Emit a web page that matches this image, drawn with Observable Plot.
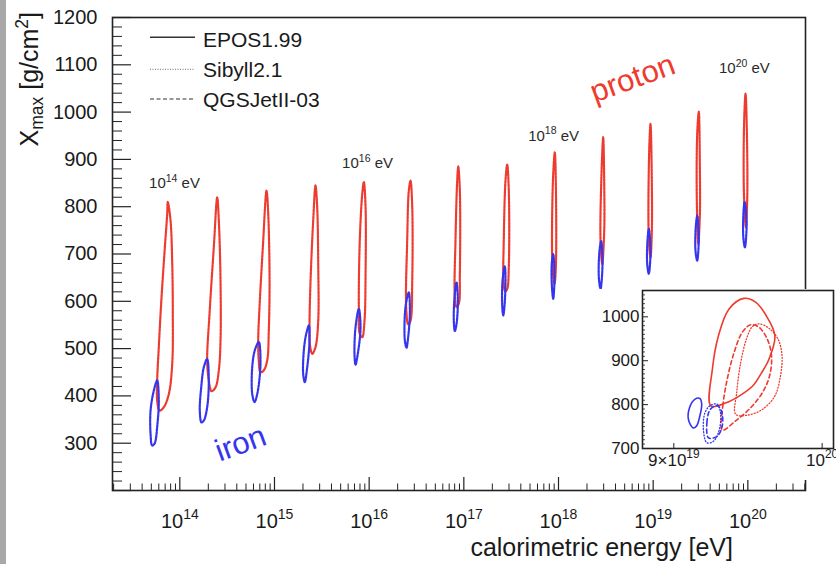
<!DOCTYPE html>
<html><head><meta charset="utf-8">
<script src="https://cdn.jsdelivr.net/npm/d3@7"></script>
<script src="https://cdn.jsdelivr.net/npm/@observablehq/plot@0.6"></script>
<style>
html,body{margin:0;padding:0;background:#fff;}
#wrap{position:relative;width:836px;height:564px;overflow:hidden;background:#fff;font-family:"Liberation Sans",Arial,Helvetica,sans-serif;}
#bar{position:absolute;left:0;top:0;width:6px;height:564px;background:#a8a8a8;}
#main{position:absolute;left:0;top:0;}
#inset{position:absolute;left:594px;top:289px;background:#fff;}
</style></head><body>
<div id="wrap"><div id="main"></div><div id="inset"></div><div id="bar"></div></div>
<script>
// ---------- data (log10 of calorimetric energy [eV], Xmax [g/cm2]) ----------
const xTickValues = [1e14, 1e15, 1e16, 1e17, 1e18, 1e19, 1e20];
const xTickLabels = ["10^{14}", "10^{15}", "10^{16}", "10^{17}", "10^{18}", "10^{19}", "10^{20}"];
const yTickValues = [300, 400, 500, 600, 700, 800, 900, 1000, 1100, 1200];
const models = ["EPOS1.99", "Sibyll2.1", "QGSJetII-03"];

const protonLoops = [
  [[13.873,810],[13.902,771],[13.920,679],[13.926,574],[13.920,468],[13.884,404],[13.831,376],[13.786,369],[13.761,390],[13.761,433],[13.778,503],[13.807,609],[13.842,714],[13.867,785]],
  [[14.395,820],[14.412,771],[14.430,644],[14.430,517],[14.412,454],[14.377,418],[14.335,410],[14.306,433],[14.289,475],[14.314,574],[14.359,714]],
  [[14.916,834],[14.934,785],[14.948,644],[14.940,538],[14.923,475],[14.887,454],[14.852,450],[14.834,475],[14.828,517],[14.842,588],[14.877,714]],
  [[15.433,845],[15.451,799],[15.462,679],[15.462,559],[15.433,503],[15.399,489],[15.373,510],[15.370,552],[15.381,644],[15.409,771]],
  [[15.944,852],[15.962,799],[15.962,658],[15.951,559],[15.927,524],[15.901,531],[15.891,588],[15.901,729],[15.927,827]],
  [[16.437,855],[16.455,799],[16.455,644],[16.437,559],[16.413,551],[16.391,588],[16.402,729],[16.419,834]],
  [[16.941,885],[16.958,834],[16.958,658],[16.947,595],[16.923,588],[16.905,609],[16.912,729],[16.930,855]],
  [[17.458,889],[17.475,834],[17.475,672],[17.458,626],[17.437,621],[17.419,644],[17.422,729],[17.440,855]],
  [[17.961,915],[17.972,848],[17.972,672],[17.958,637],[17.937,672],[17.940,848]],
  [[18.472,947],[18.483,848],[18.483,750],[18.462,679],[18.444,729],[18.451,848]],
  [[18.972,975],[18.986,848],[18.986,750],[18.972,693],[18.954,729],[18.958,919]],
  [[19.482,1001],[19.493,884],[19.493,781],[19.476,722],[19.461,813],[19.465,954]],
  [[19.976,1039],[19.993,919],[19.993,813],[19.979,757],[19.958,834],[19.962,989]]
];

const ironLoops = [
  [[13.761,433],[13.778,390],[13.764,341],[13.733,299],[13.708,295],[13.691,320],[13.691,369],[13.725,411]],
  [[14.289,478],[14.306,433],[14.289,376],[14.254,348],[14.229,344],[14.211,369],[14.226,418],[14.254,461]],
  [[14.834,514],[14.852,468],[14.818,404],[14.789,387],[14.765,404],[14.765,461],[14.792,496]],
  [[15.363,549],[15.370,517],[15.346,461],[15.320,429],[15.303,447],[15.310,496],[15.335,531]],
  [[15.891,584],[15.909,545],[15.880,489],[15.856,466],[15.845,489],[15.856,545]],
  [[16.419,619],[16.430,574],[16.408,517],[16.395,502],[16.377,517],[16.384,588]],
  [[16.923,640],[16.937,602],[16.923,552],[16.905,537],[16.894,559],[16.902,609]],
  [[17.433,674],[17.440,637],[17.427,584],[17.416,570],[17.406,588],[17.409,644]],
  [[17.944,700],[17.958,651],[17.944,605],[17.929,637],[17.929,679]],
  [[18.451,727],[18.465,679],[18.444,626],[18.426,651],[18.433,707]],
  [[18.954,753],[18.972,707],[18.954,658],[18.937,679],[18.940,729]],
  [[19.465,781],[19.482,736],[19.465,686],[19.447,707],[19.450,757]],
  [[19.966,810],[19.987,764],[19.969,714],[19.952,736],[19.955,792]]
];

const energyLabels = ["10^{14} eV", "10^{16} eV", "10^{18} eV", "10^{20} eV"];
const energyLabelLogE = [13.944, 15.983, 17.948, 19.964];
const energyLabelXmax = [849, 891, 950, 1092];

const speciesLabels = ["proton", "iron"];
const speciesLabelLogE = [18.783, 14.642];
const speciesLabelXmax = [1071, 299];

// inset: energy in units of 1e19 eV, Xmax
const insetXTickValues = [9e19, 1e20];
const insetXTickLabels = ["9×10^{19}", "10^{20}"];
const insetYTickValues = [700, 800, 900, 1000];
const insetProtonEPOS = [[9.24,797],[9.25,881],[9.29,957],[9.36,1018],[9.46,1042],[9.54,1033],[9.61,1003],[9.67,957],[9.63,904],[9.58,873],[9.52,843],[9.43,820],[9.34,804]];
const insetProtonSibyll = [[9.404,778],[9.411,827],[9.438,896],[9.476,949],[9.517,978],[9.562,984],[9.629,974],[9.692,949],[9.719,911],[9.708,865],[9.670,820],[9.584,789],[9.483,776]];
const insetProtonQGSJet = [[9.315,742],[9.319,797],[9.348,858],[9.394,919],[9.449,965],[9.505,982],[9.562,976],[9.618,949],[9.647,911],[9.633,865],[9.584,827],[9.505,793],[9.404,763]];
const insetIronEPOS = [[9.124,747],[9.094,766],[9.101,793],[9.135,812],[9.168,814],[9.180,801],[9.168,774],[9.146,751]];
const insetIronSibyll = [[9.214,713],[9.191,744],[9.202,782],[9.236,798],[9.281,801],[9.303,782],[9.296,744],[9.259,717]];
const insetIronQGSJet = [[9.225,724],[9.214,759],[9.236,789],[9.281,798],[9.310,785],[9.315,751],[9.281,728]];

// ---------- helpers ----------
const RED = "#ee3b30", BLUE = "#3535ee", INK = "#1a1a1a";
const FONT = "'Liberation Sans', Arial, Helvetica, sans-serif";
function rows(loops) { return loops.flatMap((pts, i) => pts.map(p => ({id: i, e: p[0], xm: p[1]}))); }
function labelFor(values, labels) {
  return d => { const i = values.findIndex(v => Math.abs(v - d) / v < 1e-6); return i < 0 ? "" : labels[i]; };
}
function rich(svg) {
  d3.select(svg).selectAll("text").each(function() {
    const el = this, s = el.textContent;
    if (!/[\^_]\{/.test(s)) return;
    while (el.firstChild) el.removeChild(el.firstChild);
    const re = /(\^|_)\{([^}]*)\}|([^\^_]+)/g; let m, pending = 0;
    while ((m = re.exec(s))) {
      const t = document.createElementNS("http://www.w3.org/2000/svg", "tspan");
      if (m[3] !== undefined) {
        t.textContent = m[3];
        if (pending) t.setAttribute("dy", pending + "em");
        pending = 0;
      } else {
        t.textContent = m[2];
        t.setAttribute("font-size", "70%");
        if (m[1] === "^") { t.setAttribute("dy", "-0.6em"); pending = 0.42; }
        else { t.setAttribute("dy", "0.3em"); pending = -0.21; }
      }
      el.appendChild(t);
    }
  });
}

// ---------- main plot ----------
const xDomain = [10 ** 13.289, 10 ** 20.609];
const xMinor = [];
for (let n = 13; n <= 20; n++) for (let k = 2; k <= 9; k++) { const v = k * 10 ** n; if (v >= xDomain[0] && v <= xDomain[1]) xMinor.push(v); }
const yMinor = [];
for (let v = 200; v <= 1200; v += 20) if (v % 100) yMinor.push(v);
const yMajorTicks = [200, ...yTickValues];

const plotW = 836 - 112 - 31, plotH = 564 - 17 - 74;
const annot = energyLabels.map((t, i) => ({t, e: energyLabelLogE[i], xm: energyLabelXmax[i]}));
const spec = speciesLabels.map((t, i) => ({t, e: speciesLabelLogE[i], xm: speciesLabelXmax[i]}));

const main = Plot.plot({
  width: 836, height: 564,
  marginLeft: 112, marginRight: 31, marginTop: 17, marginBottom: 74,
  style: {background: "transparent", fontFamily: FONT, fontSize: "20px", color: INK, overflow: "visible"},
  x: {type: "log", domain: xDomain},
  y: {domain: [200, 1200]},
  marks: [
    Plot.ruleX(xMinor, {stroke: "#222", strokeWidth: 1, insetTop: plotH - 6.5}),
    Plot.ruleX(xTickValues, {stroke: "#222", strokeWidth: 1.2, insetTop: plotH - 13}),
    Plot.ruleY(yMinor, {stroke: "#222", strokeWidth: 1, insetRight: plotW - 10}),
    Plot.ruleY(yMajorTicks, {stroke: "#222", strokeWidth: 1.2, insetRight: plotW - 19}),
    Plot.axisX(xTickValues, {tickSize: 0, tickPadding: 23, fontSize: 20, label: null,
      tickFormat: labelFor(xTickValues, xTickLabels)}),
    Plot.axisY(yTickValues, {tickSize: 0, tickPadding: 15, fontSize: 20, label: null, tickFormat: d => String(d)}),
    Plot.line(rows(protonLoops), {x: d => 10 ** d.e, y: "xm", z: "id", curve: "catmull-rom-closed",
      stroke: RED, strokeWidth: 2.2, strokeDasharray: "2.5,1"}),
    Plot.line(rows(ironLoops), {x: d => 10 ** d.e, y: "xm", z: "id", curve: "catmull-rom-closed",
      stroke: BLUE, strokeWidth: 2.2, strokeDasharray: "2.5,1"}),
    Plot.text(annot, {x: d => 10 ** d.e, y: "xm", text: "t", fontSize: 15, fill: "#2a2a2a"}),
    Plot.text(spec.slice(0, 1), {x: d => 10 ** d.e, y: "xm", text: "t", fontSize: 31, fill: RED, rotate: -20}),
    Plot.text(spec.slice(1), {x: d => 10 ** d.e, y: "xm", text: "t", fontSize: 31, fill: BLUE, rotate: -20}),
    Plot.frame({stroke: "#222", strokeWidth: 1.6})
  ]
});

const ms = d3.select(main);
// axis titles
ms.append("text").attr("transform", "translate(38,12) rotate(-90)").attr("text-anchor", "end")
  .attr("font-size", 25).attr("fill", INK).attr("font-family", FONT).text("X_{max} [g/cm^{2}]");
ms.append("text").attr("x", 733).attr("y", 556).attr("text-anchor", "end")
  .attr("font-size", 25).attr("fill", INK).attr("font-family", FONT).text("calorimetric energy [eV]");
// legend
const legY = [37.3, 69.3, 99], legBase = [46.5, 77, 107];
const legStyle = [{c: "#333", w: 1.5, d: null}, {c: "#8a8a8a", w: 1.3, d: "1,1.5"}, {c: "#777", w: 1.5, d: "4,2.5"}];
models.forEach((m, i) => {
  ms.append("line").attr("x1", 150).attr("x2", 195).attr("y1", legY[i]).attr("y2", legY[i])
    .attr("stroke", legStyle[i].c).attr("stroke-width", legStyle[i].w).attr("stroke-dasharray", legStyle[i].d);
  ms.append("text").attr("x", 203).attr("y", legBase[i]).attr("text-anchor", "start").attr("font-size", 21).attr("fill", INK)
    .attr("font-family", FONT).text(m);
});
rich(main);
document.getElementById("main").appendChild(main);

// ---------- inset ----------
const iH = 191, iW = 242, iML = 48, iMR = 3, iMT = 1, iMB = 32;
const iPlotW = iW - iML - iMR, iPlotH = iH - iMT - iMB;
const iYMinor = [];
for (let v = 700; v <= 1060; v += 10) if (v % 100) iYMinor.push(v);
const ix = d => d[0] * 1e19, iy = d => d[1];
const inset = Plot.plot({
  width: iW, height: iH, marginLeft: iML, marginRight: iMR, marginTop: iMT, marginBottom: iMB,
  style: {background: "#fff", fontFamily: FONT, fontSize: "17px", color: INK, overflow: "visible"},
  x: {type: "log", domain: [8.802e19, 1.0081e20], axis: null},
  y: {domain: [700, 1060]},
  marks: [
    Plot.ruleY(iYMinor, {stroke: "#222", strokeWidth: 0.8, insetRight: iPlotW - 3}),
    Plot.ruleY(insetYTickValues, {stroke: "#222", strokeWidth: 1, insetRight: iPlotW - 6}),
    Plot.ruleX(insetXTickValues, {x: d => d, stroke: "#222", strokeWidth: 1, insetTop: iPlotH - 5}),
    Plot.axisY(insetYTickValues, {tickSize: 0, tickPadding: 3, fontSize: 17, label: null, tickFormat: d => String(d)}),
    Plot.text(insetXTickValues, {x: d => d, text: labelFor(insetXTickValues, insetXTickLabels),
      frameAnchor: "bottom", dy: 17, fontSize: 17, fill: INK}),
    Plot.line(insetProtonEPOS, {x: ix, y: iy, curve: "catmull-rom-closed", stroke: RED, strokeWidth: 1.6}),
    Plot.line(insetProtonSibyll, {x: ix, y: iy, curve: "catmull-rom-closed", stroke: RED, strokeWidth: 1.3, strokeDasharray: "1,2"}),
    Plot.line(insetProtonQGSJet, {x: ix, y: iy, curve: "catmull-rom-closed", stroke: RED, strokeWidth: 1.6, strokeDasharray: "4,3"}),
    Plot.line(insetIronEPOS, {x: ix, y: iy, curve: "catmull-rom-closed", stroke: BLUE, strokeWidth: 1.6}),
    Plot.line(insetIronSibyll, {x: ix, y: iy, curve: "catmull-rom-closed", stroke: BLUE, strokeWidth: 1.3, strokeDasharray: "1,2"}),
    Plot.line(insetIronQGSJet, {x: ix, y: iy, curve: "catmull-rom-closed", stroke: BLUE, strokeWidth: 1.6, strokeDasharray: "4,3"}),
    Plot.frame({stroke: "#222", strokeWidth: 1.6})
  ]
});
rich(inset);
document.getElementById("inset").appendChild(inset);
</script>
</body></html>
